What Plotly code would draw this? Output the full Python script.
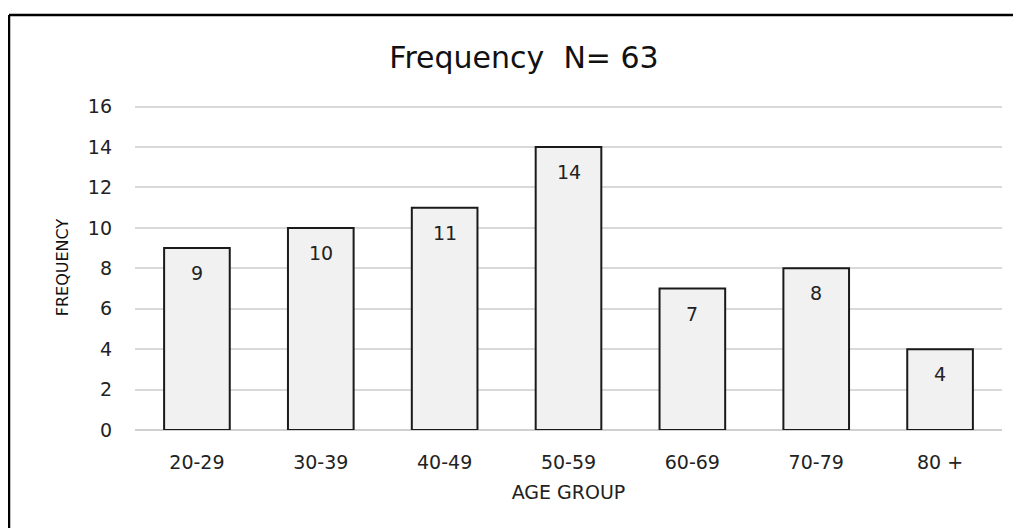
import plotly.graph_objects as go

categories = ["20-29", "30-39", "40-49", "50-59", "60-69", "70-79", "80 +"]
frequency = [9, 10, 11, 14, 7, 8, 4]
y_ticks = [0, 2, 4, 6, 8, 10, 12, 14, 16]

FONT = "DejaVu Sans"

fig = go.Figure()
fig.add_trace(go.Bar(
    x=categories, y=frequency,
    marker=dict(color="#f1f1f1", line=dict(color="#1a1a1a", width=2)),
    hoverinfo="x+y",
))

for c, v in zip(categories, frequency):
    fig.add_annotation(x=c, y=v, text=str(v), showarrow=False, yshift=-25,
                       font=dict(family=FONT, size=19, color="#222222"))

OFF = 8  # page offset of the figure in the browser
L, T = 135 - OFF, 105 - OFF
W, H = 1021, 528
pw, ph = 867, 325
R, B = W - L - pw, H - T - ph
left_px, top_px = 9 - OFF, 15 - OFF
xl = (left_px - L) / pw
yt = (H - B - top_px) / ph
fig.add_shape(type="line", xref="paper", yref="paper", x0=xl, x1=1.2, y0=yt, y1=yt,
              line=dict(color="black", width=2.5))
fig.add_shape(type="line", xref="paper", yref="paper", x0=xl, x1=xl, y0=yt, y1=-0.5,
              line=dict(color="black", width=2.5))

fig.update_layout(
    width=W, height=H,
    margin=dict(l=L, r=R, t=T, b=B),
    paper_bgcolor="white", plot_bgcolor="white",
    showlegend=False,
    bargap=0.47,
    title=dict(text="Frequency  N= 63", x=(524 - OFF) / W, xanchor="center",
               y=1 - (57 - OFF) / H, yanchor="middle",
               font=dict(family=FONT, size=30, color="#111111")),
    xaxis=dict(title=dict(text="AGE GROUP", font=dict(family=FONT, size=19, color="#222222"), standoff=13),
               tickfont=dict(family=FONT, size=19, color="#222222"),
               showgrid=False, showline=False, ticks="", ticklabelstandoff=19),
    yaxis=dict(title=dict(text="FREQUENCY", font=dict(family=FONT, size=16, color="#111111"), standoff=15),
               range=[0, 16.08], tickvals=y_ticks,
               tickfont=dict(family=FONT, size=19, color="#222222"),
               gridcolor="#d9d9d9", gridwidth=1.5, zeroline=True, zerolinecolor="#d0d0d0",
               zerolinewidth=1.5, showline=False, ticks="", ticklabelstandoff=22),
)

fig.write_html("out.html")
